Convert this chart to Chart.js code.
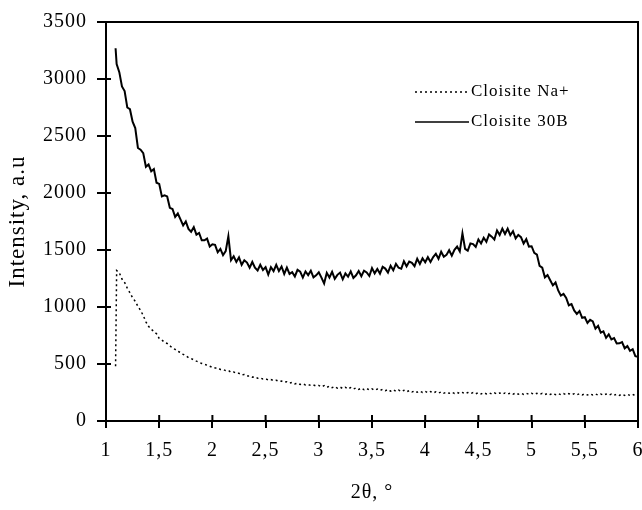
<!DOCTYPE html>
<html><head><meta charset="utf-8">
<script src="https://cdn.jsdelivr.net/npm/chart.js@4/dist/chart.umd.min.js"></script>
<style>html,body{margin:0;padding:0;background:#fff}#wrap{width:642px;height:510px}</style>
</head><body><div id="wrap"><canvas id="c" width="642" height="510"></canvas></div>
<script>
const twoTheta = [
 1.09,1.1,1.125,1.15,1.175,1.2,1.225,1.25,1.275,1.3,1.325,1.35,1.375,1.4,1.425,1.45,1.475,1.5,1.525,1.55,1.575,1.6,1.625,1.65,1.675,1.7,1.725,1.75,1.775,1.8,1.825,1.85,1.875,1.9,1.925,1.95,1.975,2,
 2.025,2.05,2.075,2.1,2.125,2.15,2.175,2.2,2.225,2.25,2.275,2.3,2.325,2.35,2.375,2.4,2.425,2.45,2.475,2.5,2.525,2.55,2.575,2.6,2.625,2.65,2.675,2.7,2.725,2.75,2.775,2.8,2.825,2.85,2.875,2.9,2.925,2.95,2.975,3,
 3.025,3.05,3.075,3.1,3.125,3.15,3.175,3.2,3.225,3.25,3.275,3.3,3.325,3.35,3.375,3.4,3.425,3.45,3.475,3.5,3.525,3.55,3.575,3.6,3.625,3.65,3.675,3.7,3.725,3.75,3.775,3.8,3.825,3.85,3.875,3.9,3.925,3.95,3.975,4,
 4.025,4.05,4.075,4.1,4.125,4.15,4.175,4.2,4.225,4.25,4.275,4.3,4.325,4.35,4.375,4.4,4.425,4.45,4.475,4.5,4.525,4.55,4.575,4.6,4.625,4.65,4.675,4.7,4.725,4.75,4.775,4.8,4.825,4.85,4.875,4.9,4.925,4.95,4.975,5,
 5.025,5.05,5.075,5.1,5.125,5.15,5.175,5.2,5.225,5.25,5.275,5.3,5.325,5.35,5.375,5.4,5.425,5.45,5.475,5.5,5.525,5.55,5.575,5.6,5.625,5.65,5.675,5.7,5.725,5.75,5.775,5.8,5.825,5.85,5.875,5.9,5.925,5.95,5.975,6
];
const cloisite30B = [
 3270,3130,3060,2935,2895,2750,2735,2625,2570,2395,2380,2350,2230,2250,2190,2210,2090,2080,1970,1980,1970,1870,1860,1790,1820,1768,1715,1750,1685,1660,1700,1635,1650,1585,1585,1600,1530,1550,
 1545,1480,1510,1455,1490,1620,1410,1445,1395,1435,1370,1410,1390,1345,1395,1345,1320,1370,1325,1350,1285,1350,1315,1370,1315,1355,1290,1345,1290,1305,1268,1326,1310,1258,1312,1280,1318,1260,1278,1305,
 1258,1206,1300,1259,1308,1247,1282,1302,1243,1294,1266,1313,1255,1278,1316,1270,1319,1303,1272,1341,1295,1334,1293,1352,1337,1302,1362,1322,1378,1344,1335,1401,1357,1398,1388,1358,1423,1378,1428,1393,
 1437,1395,1438,1466,1423,1485,1441,1457,1498,1450,1502,1530,1488,1646,1510,1494,1558,1552,1527,1592,1557,1607,1572,1637,1617,1592,1672,1632,1687,1640,1687,1630,1665,1602,1633,1613,1557,1595,1530,1533,
 1475,1460,1360,1345,1260,1280,1235,1190,1215,1145,1100,1115,1080,1015,1025,970,940,965,905,910,860,888,873,810,835,775,787,730,760,715,727,680,681,692,638,657,616,630,569,563
];
const cloisiteNa = [
 480,1320,1300,1245,1215,1165,1125,1080,1050,1005,970,925,870,830,805,785,765,725,710,690,680,660,640,628,610,602,585,572,556,548,536,525,515,505,497,490,480,470,
 465,466,452,452,442,443,428,430,418,418,405,408,395,396,385,388,375,378,368,370,360,364,355,358,348,350,340,344,333,338,326,332,320,326,316,320,312,316,307,312,
 300,310,295,306,292,302,288,298,285,296,282,293,280,290,277,288,274,285,272,282,270,280,268,278,266,276,262,274,260,271,258,269,256,266,254,264,252,262,250,260,
 248,258,246,256,245,255,244,253,243,252,242,251,241,250,240,250,240,249,239,248,238,248,238,247,237,247,237,246,236,246,236,245,235,245,235,244,234,244,234,243,
 233,243,233,242,232,242,232,241,231,241,231,240,230,240,230,239,229,239,229,238,228,238,228,237,227,237,227,236,226,236,226,235,225,235,225,234,224,234,222,232
];
const xTickLabels = ['1','1,5','2','2,5','3','3,5','4','4,5','5','5,5','6'];
const yTickValues = [0,500,1000,1500,2000,2500,3000,3500];
const yTickLabels = ['0','500','1000','1500','2000','2500','3000','3500'];
const seriesNames = ['Cloisite Na+','Cloisite 30B'];
const axisTitles = {x:'2\u03b8, \u00b0', y:'Intensity, a.u'};

const FONT = 'Liberation Serif';

const spacingPlugin = {
  id:'spacing',
  beforeUpdate(chart){ chart.ctx.letterSpacing='1px'; },
  beforeLayout(chart){ chart.ctx.letterSpacing='1px'; },
  beforeDraw(chart){ chart.ctx.letterSpacing='1px'; }
};

const framePlugin = {
  id:'frame',
  afterDraw(chart){
    const {ctx, chartArea:a, scales:{x,y}} = chart;
    ctx.save();
    ctx.strokeStyle='#000'; ctx.lineWidth=2;
    ctx.beginPath();
    ctx.moveTo(a.left,a.top); ctx.lineTo(a.right,a.top); ctx.lineTo(a.right,a.bottom);
    x.ticks.forEach((t,i)=>{const px=x.getPixelForTick(i); ctx.moveTo(px,a.bottom); ctx.lineTo(px,a.bottom-6);});
    y.ticks.forEach((t,i)=>{const py=y.getPixelForTick(i); ctx.moveTo(a.left,py); ctx.lineTo(a.left+5,py);});
    ctx.stroke();
    chart.data.datasets.forEach((ds,i)=>{
      const ly = 92 + i*30;
      ctx.beginPath();
      ctx.lineWidth = 1.5;
      ctx.setLineDash(ds.borderDash || []);
      ctx.moveTo(415,ly); ctx.lineTo(469,ly); ctx.stroke();
      ctx.setLineDash([]);
      ctx.fillStyle='#000';
      ctx.font = '17px "'+FONT+'"';
      ctx.letterSpacing='1px';
      ctx.textBaseline='middle'; ctx.textAlign='left';
      ctx.fillText(ds.label, 471, ly);
    });
    ctx.restore();
  }
};

new Chart(document.getElementById('c'), {
  type:'line',
  data:{
    datasets:[
      {label:seriesNames[0], data:twoTheta.map((t,i)=>({x:t,y:cloisiteNa[i]})), borderColor:'#000', borderWidth:1.5, borderDash:[2,3], pointRadius:0, tension:0, fill:false},
      {label:seriesNames[1], data:twoTheta.map((t,i)=>({x:t,y:cloisite30B[i]})), borderColor:'#000', borderWidth:2, pointRadius:0, tension:0, fill:false}
    ]
  },
  options:{
    responsive:false, animation:false,
    layout:{padding:{top:22,right:4,left:0,bottom:0}},
    plugins:{legend:{display:false}, tooltip:{enabled:false}},
    scales:{
      x:{type:'linear', min:1, max:6,
        afterFit(s){ s.height = 89; s.paddingLeft=0; s.paddingRight=0; },
        ticks:{stepSize:0.5, autoSkip:false, maxRotation:0, color:'#000', padding:11,
          font:{family:FONT, size:20},
          callback:(v)=>xTickLabels[Math.round((v-1)/0.5)]},
        grid:{drawOnChartArea:false, drawTicks:true, tickLength:7, color:'#000', lineWidth:2},
        border:{display:true, color:'#000', width:2},
        title:{display:true, text:axisTitles.x, color:'#000', font:{family:FONT, size:20}, padding:{top:0,bottom:5}}
      },
      y:{type:'linear', min:0, max:3500,
        afterFit(s){ s.width = 106; s.paddingTop=0; s.paddingBottom=0; },
        afterBuildTicks(s){ s.ticks = yTickValues.map(v=>({value:v})); },
        ticks:{color:'#000', padding:10, font:{family:FONT, size:20},
          callback:(v)=>yTickLabels[yTickValues.indexOf(v)]},
        grid:{drawOnChartArea:false, drawTicks:true, tickLength:9, color:'#000', lineWidth:2},
        border:{display:true, color:'#000', width:2},
        title:{display:true, text:axisTitles.y, color:'#000', font:{family:FONT, size:23}, padding:{top:4,bottom:0}}
      }
    }
  },
  plugins:[spacingPlugin, framePlugin]
});
</script></body></html>
